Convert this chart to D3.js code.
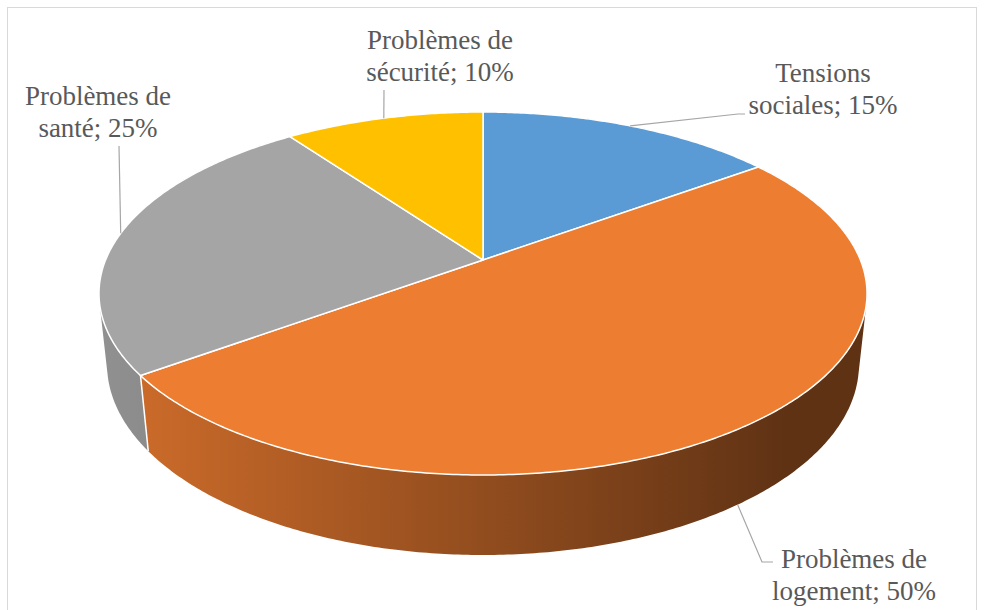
<!DOCTYPE html>
<html>
<head>
<meta charset="utf-8">
<script src="https://cdn.jsdelivr.net/npm/d3@7"></script>
<style>
  body { margin: 0; background: #fff; }
  svg { display: block; }
</style>
</head>
<body>
<script>
// data
var categories = ['Tensions sociales', 'Problèmes de logement', 'Problèmes de santé', 'Problèmes de sécurité'];
var values = [15, 50, 25, 10];
var colors = ['#5B9BD5', '#ED7D31', '#A5A5A5', '#FFC000'];

var w = 985, h = 610;

// 3d view (perspective), unit radius disk
var cx = 483, cy = 260,
	D = 4.796,      // camera distance
	F = 1810,       // focal length
	sinA = 0.4645, cosA = 0.8856,  // tilt
	H = 0.2134;     // thickness

function proj(theta, y) {
	var x = Math.sin(theta), z = Math.cos(theta);
	var d = D - y * sinA + z * cosA;
	var v = y * cosA + z * sinA;
	return [cx + F * x / d, cy - F * v / d];
}

function depth(theta) {
	return D + Math.cos(theta) * cosA;
}

function darker(c, k) {
	var r = d3.rgb(c);
	return d3.rgb(r.r * k, r.g * k, r.b * k).formatHex();
}

var pie = d3.pie().sort(null).value(function(d) { return d; });
var arcs = pie(values);

var svg = d3.select('body').append('svg')
	.attr('width', w)
	.attr('height', h);

svg.append('rect')
	.attr('x', 7.5).attr('y', 7.5)
	.attr('width', 969).attr('height', 640)
	.attr('fill', '#fff')
	.attr('stroke', '#D9D9D9');

// side shading: lighter on the left, dark brown on the right
var defs = svg.append('defs');
colors.forEach(function(c, i) {
	var g = defs.append('linearGradient')
		.attr('id', 'side' + i)
		.attr('gradientUnits', 'userSpaceOnUse')
		.attr('x1', 98).attr('y1', 0)
		.attr('x2', 866).attr('y2', 0);
	g.append('stop').attr('offset', 0).attr('stop-color', darker(c, 0.88));
	g.append('stop').attr('offset', 0.9).attr('stop-color', darker(c, 0.4));
	g.append('stop').attr('offset', 1).attr('stop-color', darker(c, 0.4));
});

// union of small quads, all wound the same way
function sidePath(a) {
	var p = d3.path();
	var n = Math.max(2, Math.ceil((a.endAngle - a.startAngle) / 0.01));
	for (var k = 0; k < n; k++) {
		var t0 = a.startAngle + (a.endAngle - a.startAngle) * k / n;
		var t1 = a.startAngle + (a.endAngle - a.startAngle) * (k + 1) / n;
		var q = [proj(t0, 0), proj(t1, 0), proj(t1, -H), proj(t0, -H)];
		if (d3.polygonArea(q) < 0) q.reverse();
		p.moveTo(q[0][0], q[0][1]);
		p.lineTo(q[1][0], q[1][1]);
		p.lineTo(q[2][0], q[2][1]);
		p.lineTo(q[3][0], q[3][1]);
		p.closePath();
	}
	return p.toString();
}

// far slices first
var order = arcs.map(function(a, i) { return i; }).sort(function(a, b) {
	var ma = (arcs[a].startAngle + arcs[a].endAngle) / 2;
	var mb = (arcs[b].startAngle + arcs[b].endAngle) / 2;
	return depth(mb) - depth(ma);
});

svg.append('g').selectAll('path')
	.data(order)
	.enter().append('path')
		.attr('d', function(i) { return sidePath(arcs[i]); })
		.attr('fill', function(i) { return 'url(#side' + i + ')'; })
		.attr('fill-rule', 'nonzero');

// white seams on the side at slice edges
svg.append('g').selectAll('line')
	.data(arcs.filter(function(d) { return depth(d.startAngle) < D; }))
	.enter().append('line')
		.attr('x1', function(d) { return proj(d.startAngle, 0)[0]; })
		.attr('y1', function(d) { return proj(d.startAngle, 0)[1]; })
		.attr('x2', function(d) { return proj(d.startAngle, -H)[0]; })
		.attr('y2', function(d) { return proj(d.startAngle, -H)[1]; })
		.attr('stroke', '#fff')
		.attr('stroke-width', 1.5);

// top faces
function topPath(a) {
	var p = d3.path();
	p.moveTo(cx, cy);
	var n = Math.max(2, Math.ceil((a.endAngle - a.startAngle) / 0.01));
	for (var k = 0; k <= n; k++) {
		var t = a.startAngle + (a.endAngle - a.startAngle) * k / n;
		var q = proj(t, 0);
		p.lineTo(q[0], q[1]);
	}
	p.closePath();
	return p.toString();
}

svg.append('g').selectAll('path')
	.data(arcs)
	.enter().append('path')
		.attr('d', topPath)
		.attr('fill', function(d, i) { return colors[i]; })
		.attr('stroke', '#fff')
		.attr('stroke-width', 1.5)
		.attr('stroke-linejoin', 'round');

// labels: text centre, first baseline, leader end points
var labelLayout = [
	{ x: 823, y: 82, onTop: true, leader: [[738, 114], [745, 114]] },
	{ x: 854, y: 568, onTop: false, leader: [[762, 562], [773, 562]] },
	{ x: 98, y: 105, onTop: true, leader: [[119, 146]] },
	{ x: 440, y: 49, onTop: true, leader: [[384, 90]] }
];

var labels = svg.append('g');

arcs.forEach(function(a, i) {
	var L = labelLayout[i];
	var mid = (a.startAngle + a.endAngle) / 2;
	var start = proj(mid, L.onTop ? 0 : -H);
	var pts = [start].concat(L.leader);
	labels.append('path')
		.attr('d', d3.line()(pts))
		.attr('fill', 'none')
		.attr('stroke', '#A6A6A6')
		.attr('stroke-width', 1.2);

	var words = categories[i].split(' ');
	var line1 = words.slice(0, -1).join(' ');
	var line2 = words[words.length - 1] + '; ' + values[i] + '%';
	var t = labels.append('text')
		.attr('x', L.x).attr('y', L.y)
		.attr('text-anchor', 'middle')
		.attr('font-family', 'Liberation Serif, Times New Roman, serif')
		.attr('font-size', 27)
		.attr('fill', '#595959');
	t.append('tspan').attr('x', L.x).attr('dy', 0).text(line1);
	t.append('tspan').attr('x', L.x).attr('dy', 32).text(line2);
});
</script>
</body>
</html>
